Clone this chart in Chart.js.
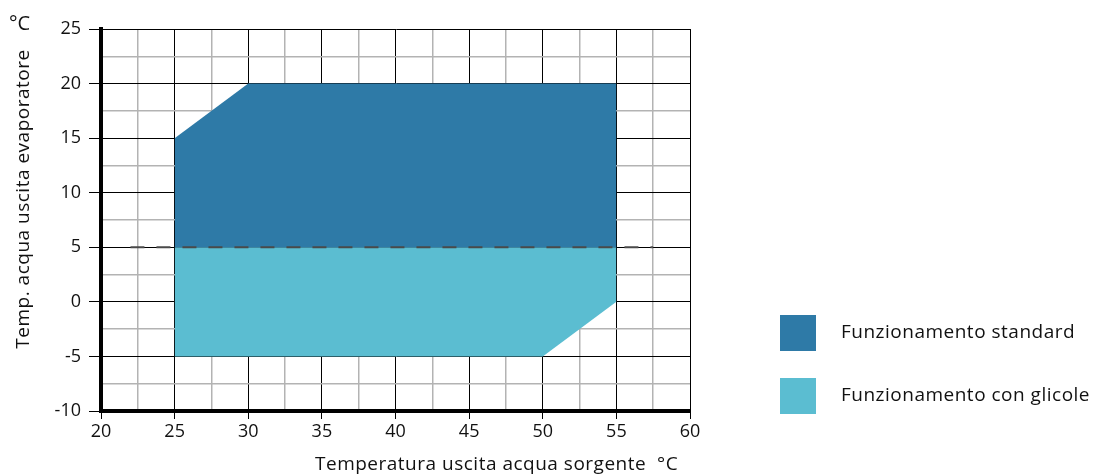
<!DOCTYPE html>
<html lang="it">
<head>
<meta charset="UTF-8">
<title>Campo di funzionamento</title>
<script src="https://cdn.jsdelivr.net/npm/chart.js"></script>
<style>
  body { margin: 0; background: #fff; font-family: "Open Sans", "Noto Sans", sans-serif; color: #111; }
  .wrap { position: relative; width: 1099px; height: 474px; }
  .label { position: absolute; font-size: 19px; white-space: nowrap; letter-spacing: 0.5px; }
  .ytitle { left: 22px; top: 199px; transform: translate(-50%, -50%) rotate(-90deg); }
  .unit { left: 9px; top: 9px; font-size: 20px; letter-spacing: 0; }
  .xtitle { left: 315px; top: 450px; }
  .legend { position: absolute; left: 780px; }
  .legend .box { display: inline-block; width: 36px; height: 36px; vertical-align: middle; }
  .legend span.txt { position: absolute; left: 61px; top: 3px; font-size: 19px; letter-spacing: 0.5px; white-space: nowrap; }
</style>
</head>
<body>
<div class="wrap">
  <canvas id="chart"></canvas>
  <div class="label unit">°C</div>
  <div class="label ytitle">Temp. acqua uscita evaporatore</div>
  <div class="label xtitle">Temperatura uscita acqua sorgente &nbsp;°C</div>
  <div class="legend" style="top:315px"><span class="box" style="background:#2e7aa7"></span><span class="txt">Funzionamento standard</span></div>
  <div class="legend" style="top:378px"><span class="box" style="background:#5bbdd1"></span><span class="txt">Funzionamento con glicole</span></div>
</div>

<script>
// envelope boundaries (x = source water out °C, y = evaporator water out °C)
const standardX = [25, 30, 55];
const standardY = [15, 20, 20];
const glycolX = [25, 50, 55];
const glycolY = [-5, -5, 0];
const splitX = [22, 57.5];
const splitY = [5, 5];
const baseLine = 5;

const xTicks = [20, 25, 30, 35, 40, 45, 50, 55, 60];
const yTicks = [-10, -5, 0, 5, 10, 15, 20, 25];

const toPoints = (xs, ys) => xs.map((x, i) => ({ x: x, y: ys[i] }));
const isMajor = v => Math.abs(v / 5 - Math.round(v / 5)) < 1e-6;
const tickFont = { family: '"Open Sans", "Noto Sans", sans-serif', size: 18 };

const ctx = document.getElementById('chart').getContext('2d');
new Chart(ctx, {
  type: 'scatter',
  data: {
    datasets: [
      {
        label: 'split',
        data: toPoints(splitX, splitY),
        showLine: true,
        borderColor: '#4a4a4a',
        borderWidth: 2,
        borderDash: [14, 12],
        pointRadius: 0,
        fill: false,
        order: 0
      },
      {
        label: 'Funzionamento standard',
        data: toPoints(standardX, standardY),
        showLine: true,
        borderWidth: 0,
        borderColor: '#2e7aa7',
        backgroundColor: '#2e7aa7',
        pointRadius: 0,
        fill: { value: baseLine },
        order: 1
      },
      {
        label: 'Funzionamento con glicole',
        data: toPoints(glycolX, glycolY),
        showLine: true,
        borderWidth: 0,
        borderColor: '#5bbdd1',
        backgroundColor: '#5bbdd1',
        pointRadius: 0,
        fill: { value: baseLine },
        order: 1
      }
    ]
  },
  options: {
    responsive: true,
    maintainAspectRatio: false,
    animation: false,
    layout: { padding: { left: 0, top: 29, right: 409, bottom: 0 } },
    plugins: { legend: { display: false }, tooltip: { enabled: false } },
    scales: {
      x: {
        type: 'linear',
        min: 20, max: 60,
        afterFit: s => { s.height = 63; },
        afterBuildTicks: s => {
          const t = [];
          for (let v = 20; v <= 60; v += 2.5) t.push({ value: v });
          s.ticks = t;
        },
        ticks: {
          autoSkip: false, maxRotation: 0, padding: 2,
          color: '#111',
          font: tickFont,
          callback: v => xTicks.includes(v) ? String(v) : ''
        },
        grid: {
          color: c => isMajor(c.tick.value) ? '#000' : '#b3b3b3',
          lineWidth: c => isMajor(c.tick.value) ? 1 : 1.5,
          tickColor: c => isMajor(c.tick.value) ? '#000' : 'rgba(0,0,0,0)',
          tickLength: 8
        },
        border: { color: '#000', width: 4 }
      },
      y: {
        type: 'linear',
        min: -10, max: 25,
        afterFit: s => { s.width = 101; },
        afterBuildTicks: s => {
          const t = [];
          for (let v = -10; v <= 25; v += 2.5) t.push({ value: v });
          s.ticks = t;
        },
        ticks: {
          autoSkip: false, padding: 8,
          color: '#111',
          font: tickFont,
          callback: v => yTicks.includes(v) ? String(v) : ''
        },
        grid: {
          color: c => isMajor(c.tick.value) ? '#000' : '#b3b3b3',
          lineWidth: c => isMajor(c.tick.value) ? 1 : 1.5,
          tickColor: c => isMajor(c.tick.value) ? '#000' : 'rgba(0,0,0,0)',
          tickLength: 12
        },
        border: { color: '#000', width: 4 }
      }
    }
  }
});
</script>
</body>
</html>
